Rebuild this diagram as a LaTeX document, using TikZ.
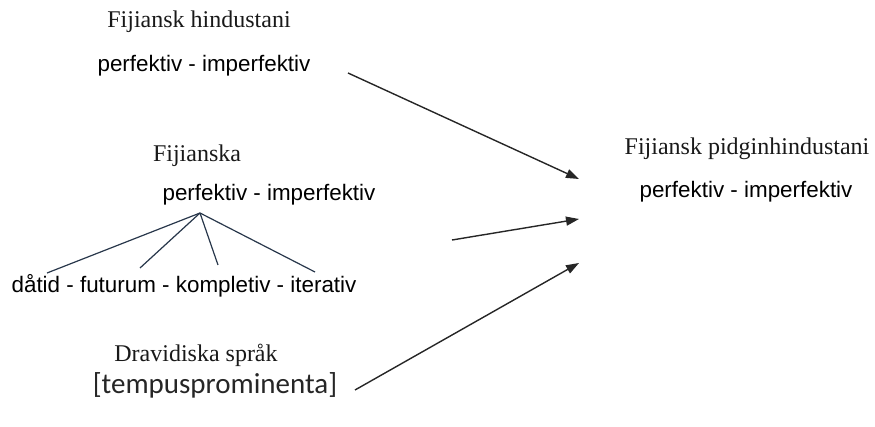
\documentclass[tikz,border=0pt]{standalone}
\usepackage{fontspec}
\setmainfont{Liberation Sans}
\newfontfamily\serifface{Liberation Serif}
\newfontfamily\califace{Carlito}
\usetikzlibrary{arrows.meta}

\tikzset{
  title/.style={font=\serifface\fontsize{24}{28}\selectfont, text=black!90, inner sep=0pt, anchor=base},
  sanstext/.style={font=\fontsize{22.4}{26}\selectfont, text=black, inner sep=0pt, anchor=base},
  bracketed/.style={font=\califace\fontsize{29}{34}\selectfont, text=black!85, inner sep=0pt, anchor=base},
  flow/.style={line width=1.4pt, black!85, -{Triangle[length=13pt,width=9pt]}},
  branch/.style={line width=1.2pt, color={rgb,255:red,40;green,55;blue,75}},
}

\begin{document}
\begin{tikzpicture}[x=1pt,y=-1pt]
  \useasboundingbox (0,0) rectangle (875,427);

  % Fijian Hindi (source)
  \node[title]    (fh)    at (199,28)  {Fijiansk hindustani};
  \node[sanstext] (fhasp) at (204,72)  {perfektiv - imperfektiv};

  % Fijian (source) with its sub-categories
  \node[title]    (fj)    at (197,162) {Fijianska};
  \node[sanstext] (fjasp) at (269,201) {perfektiv - imperfektiv};
  \node[sanstext] (fjsub) at (184,293) {dåtid - futurum - kompletiv - iterativ};

  % Dravidian languages (source)
  \node[title]     (dr)   at (196,362) {Dravidiska språk};
  \node[bracketed] (drt)  at (215,393) {[tempusprominenta]};

  % Fiji Pidgin Hindustani (target)
  \node[title]    (fph)    at (747,155) {Fijiansk pidginhindustani};
  \node[sanstext] (fphasp) at (746,198) {perfektiv - imperfektiv};

  % branching under Fijian aspect
  \coordinate (root) at (200,213);
  \coordinate (l1) at (47,273);
  \coordinate (l2) at (140,268);
  \coordinate (l3) at (218,265);
  \coordinate (l4) at (315,272);
  \foreach \leaf in {l1,l2,l3,l4} \draw[branch] (root) -- (\leaf);

  % influence arrows
  \coordinate (a1s) at (348,73);
  \coordinate (a1e) at (579,179);
  \coordinate (a2s) at (452,240);
  \coordinate (a2e) at (579,219);
  \coordinate (a3s) at (355,390);
  \coordinate (a3e) at (579,263);
  \draw[flow] (a1s) -- (a1e);
  \draw[flow] (a2s) -- (a2e);
  \draw[flow] (a3s) -- (a3e);
\end{tikzpicture}
\end{document}
